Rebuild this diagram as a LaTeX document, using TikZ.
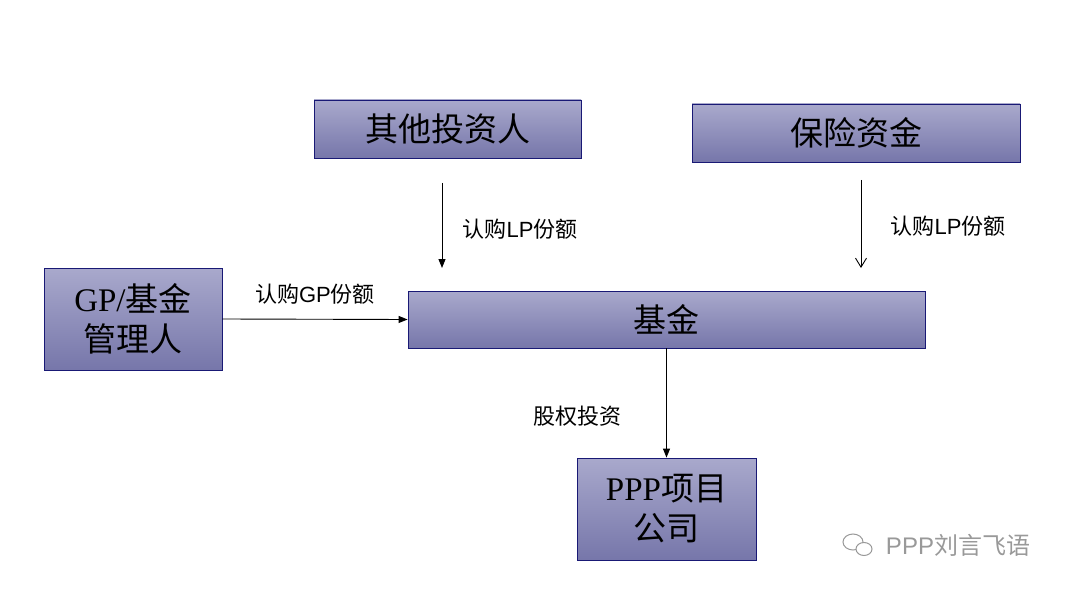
\documentclass[tikz,border=0pt]{standalone}
\usepackage{fontspec}
\setmainfont{Liberation Serif}
\newfontfamily\cjk{Noto Sans CJK SC}
\newfontfamily\lab{Liberation Sans}
\newfontfamily\ser{Liberation Serif}
\usetikzlibrary{arrows.meta}
\begin{document}
\begin{tikzpicture}[x=1pt,y=-1pt,
 box/.style={draw=blue!40!black!90,line width=0.8pt,top color=boxtop,bottom color=boxbot,inner sep=0pt,font=\fontsize{33}{40}\selectfont\cjk,align=center},
 lbl/.style={font=\fontsize{22}{26}\selectfont\cjk},
 arr/.style={line width=0.9pt,-{Triangle[length=9pt,width=7pt]}}]
\definecolor{boxtop}{HTML}{A9A9CC}
\definecolor{boxbot}{HTML}{7676AA}
\useasboundingbox (0,0) rectangle (1069,591);
\node[box,minimum width=267pt,minimum height=58pt] (oth) at (447.5,129) {其他投资人};
\node[box,minimum width=328pt,minimum height=58pt] (ins) at (856,133) {保险资金};
\node[box,minimum width=178pt,minimum height=102pt] (gp) at (133,319) {{\ser GP/}基金\\管理人};
\node[box,minimum width=517pt,minimum height=57pt] (fund) at (666.5,319.5) {基金};
\node[box,minimum width=179pt,minimum height=102pt] (ppp) at (666.5,509) {{\ser PPP}项目\\公司};
\coordinate (a1) at (442,183); \coordinate (a1e) at (442,268);
\coordinate (a2) at (861,180); \coordinate (a2e) at (861,268);
\draw[arr] (a1) -- (a1e);
\draw[line width=0.9pt,-{Straight Barb[length=9pt,width=11pt]}] (a2) -- (a2e);
\draw[arr] (gp.east) -- (fund.west);
\draw[arr] (fund.south) -- (ppp.north);
\node[lbl] (l1) at (520,229) {认购\lab LP\cjk 份额};
\node[lbl] (l2) at (948,226) {认购\lab LP\cjk 份额};
\node[lbl] (l3) at (315,294) {认购\lab GP\cjk 份额};
\node[lbl] (l4) at (577,416) {股权投资};
\node[font=\fontsize{24}{28}\selectfont\cjk,text=gray!80] (wm) at (958,545) {\lab PPP\cjk 刘言飞语};
\draw[gray!80,line width=1pt] (853,542) ellipse (10pt and 8pt);
\draw[gray!80,line width=1pt,fill=white] (864,549) ellipse (8pt and 6.5pt);
\end{tikzpicture}
\end{document}
